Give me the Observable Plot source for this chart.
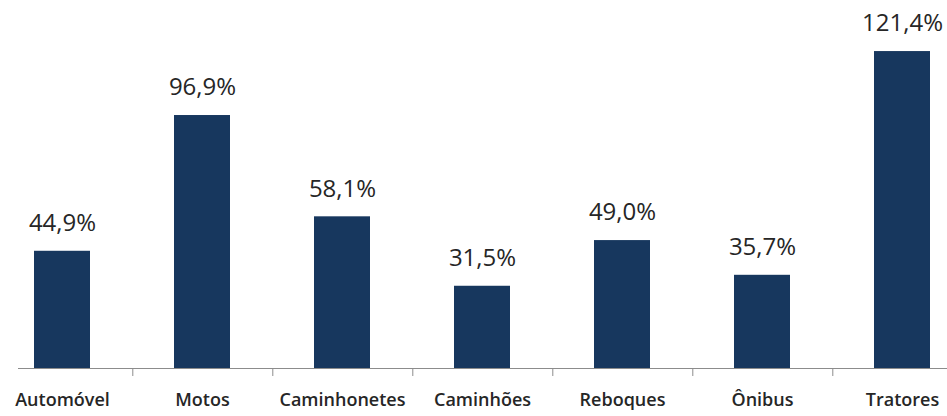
<!DOCTYPE html>
<html>
<head>
<meta charset="utf-8">
<script src="https://cdn.jsdelivr.net/npm/d3@7"></script>
<script src="https://cdn.jsdelivr.net/npm/@observablehq/plot@0.6"></script>
<style>
  html, body { margin: 0; padding: 0; background: #fff; }
  #chart svg { display: block; }
</style>
</head>
<body>
<div id="chart"></div>
<script>
const categories = ["Automóvel", "Motos", "Caminhonetes", "Caminhões", "Reboques", "Ônibus", "Tratores"];
const values = [44.9, 96.9, 58.1, 31.5, 49.0, 35.7, 121.4];
const valueLabels = ["44,9%", "96,9%", "58,1%", "31,5%", "49,0%", "35,7%", "121,4%"];

const data = categories.map((c, i) => ({cat: c, value: values[i], label: valueLabels[i]}));

const chart = Plot.plot({
  width: 947,
  height: 416,
  marginLeft: 18,
  marginRight: 0,
  marginTop: 0,
  marginBottom: 48,
  style: {fontFamily: "'Open Sans', sans-serif", background: "#fff", overflow: "visible"},
  x: {domain: categories, range: [-10.5, 973.5], paddingInner: 0.6, paddingOuter: 0.3, label: null},
  y: {domain: [0, 140], range: [368, 2.5], axis: null},
  marks: [
    Plot.barY(data, {x: "cat", y: "value", fill: "#17375e"}),
    Plot.text(data, {x: "cat", y: "value", text: "label", dy: -28, fontSize: 24, fill: "#262626", lineAnchor: "middle"}),
    Plot.ruleY([0], {stroke: "#8c8c8c", strokeWidth: 1}),
    Plot.axisX(categories.slice(0, 6), {tickSize: 8, dx: 70.3, text: null, stroke: "#8c8c8c", label: null}),
    Plot.axisX({tickSize: 0, tickPadding: 25, fontSize: 18, fontWeight: 600, fill: "#262626", label: null})
  ]
});
document.getElementById("chart").appendChild(chart);
</script>
</body>
</html>
